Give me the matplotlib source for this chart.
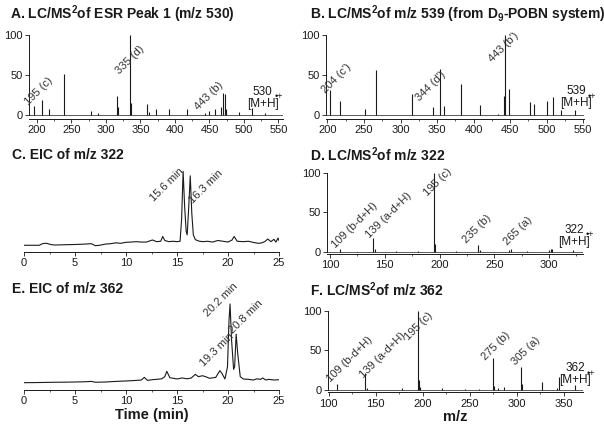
import matplotlib
matplotlib.use("Agg")
import matplotlib.pyplot as plt
from matplotlib.ticker import MultipleLocator

plt.rcParams['font.family'] = ['Liberation Sans', 'DejaVu Sans']
plt.rcParams['mathtext.fontset'] = 'custom'
plt.rcParams['mathtext.rm'] = 'Liberation Sans'
plt.rcParams['mathtext.bf'] = 'Liberation Sans:bold'

INK = '#1a1a1a'

# ---- panel A: MS2 of ESR peak 1 (m/z 530)
a_mz = [195, 208, 218, 239, 279, 289, 316, 318, 335, 336, 360, 362, 372, 391, 417,
        443, 450, 458, 467, 470, 472, 474, 493, 512, 530]
a_int = [11, 19, 8, 51, 5, 3, 24, 10, 100, 15, 14, 4, 7, 7, 7,
         3, 5, 7, 10, 28, 26, 8, 4, 9, 2]

# ---- panel B: MS2 of m/z 539 (D9-POBN)
b_mz = [204, 217, 251, 266, 316, 344, 354, 360, 383, 409, 433, 441, 443, 449,
        477, 483, 500, 508, 519, 539]
b_int = [31, 18, 7, 56, 26, 10, 58, 11, 39, 13, 1, 24, 100, 32,
         16, 14, 17, 22, 6, 6]

# ---- panel C: EIC of m/z 322
c_t = [0, 0.8, 1.5, 1.8, 2.2, 2.6, 3.0, 3.5, 4.0, 4.5, 5.0, 5.5, 6.0, 6.6, 7.0, 7.4,
       8.0, 8.5, 9.0, 9.5, 10.0, 10.5, 11.0, 11.5, 12.0, 12.6, 13.0, 13.4, 13.6, 13.8,
       14.2, 14.6, 15.0, 15.3, 15.45, 15.6, 15.75, 15.9, 16.0, 16.15, 16.3, 16.45, 16.6,
       16.8, 17.2, 17.6, 18.0, 18.5, 19.0, 19.5, 20.0, 20.4, 20.6, 20.9, 21.5, 22.0,
       22.5, 23.0, 23.3, 23.6, 23.9, 24.2, 24.5, 24.7, 24.9, 25.0]
c_y = [8, 8, 8, 10, 10.5, 9, 8.3, 8.5, 8.7, 8.8, 9, 9.2, 9.5, 10, 7.5, 8,
       9.5, 10, 11, 10.5, 11.7, 12, 12.5, 12, 12, 14.6, 12.5, 13, 19, 14,
       12.5, 13, 12.5, 13, 40, 100, 56, 25, 21, 56, 94.5, 48, 21,
       15, 13, 12.5, 13, 12, 14, 13, 12, 14.6, 19, 13, 12.5, 13,
       11.5, 10.4, 11, 12.5, 15.8, 12.5, 15.4, 12, 17, 14]

# ---- panel D: MS2 of m/z 322
d_mz = [109, 139, 141, 160, 180, 195, 196, 215, 235, 237, 263, 265, 280, 300, 302, 303, 322]
d_int = [4, 17, 3, 1, 1, 100, 10, 1, 9, 2, 2, 4, 1, 2.5, 3, 3, 1.5]

# ---- panel E: EIC of m/z 362
e_t = [0, 1, 2, 3, 4, 5, 6, 6.6, 7.0, 8.0, 9.0, 10.0, 10.8, 11.5, 11.8, 12.1, 12.6, 13.0,
       13.5, 13.8, 14.0, 14.3, 14.7, 15.0, 15.5, 16.0, 16.4, 16.8, 17.1, 17.5, 17.8,
       18.2, 18.8, 19.2, 19.4, 19.7, 19.95, 20.1, 20.2, 20.35, 20.55, 20.65, 20.8,
       20.95, 21.2, 21.5, 22.0, 22.5, 22.8, 23.2, 23.4, 23.7, 24.0, 24.5, 25.0]
e_y = [8.5, 8.6, 8.8, 9, 9.1, 9.3, 9.6, 10, 9, 9.3, 10, 10.5, 11, 11.6, 14.7, 11.2, 12, 12.4,
       13, 15.5, 21.7, 14.3, 13.5, 12.8, 14, 13, 14, 18.2, 15.5, 16.6, 15.5,
       13.6, 14.7, 22.5, 19.4, 12.8, 27, 81, 100, 58, 24, 27, 65,
       42.6, 15.5, 12.8, 12.4, 11.6, 13, 12.4, 14, 11.6, 12.4, 11.6, 12]

# ---- panel F: MS2 of m/z 362
f_mz = [109, 139, 141, 178, 195, 196, 197, 220, 245, 260, 275, 276, 280, 287,
        305, 306, 327, 343, 345, 362]
f_int = [8, 21, 3, 2, 100, 13, 4, 2, 1.5, 1.5, 40, 5, 2, 4,
         29, 8, 10, 3, 16, 6]

W, H = 604, 425
fig = plt.figure(figsize=(W / 100, H / 100), dpi=100)


def px_axes(l, t, r, b):
    return fig.add_axes([l / W, 1 - b / H, (r - l) / W, (b - t) / H])


def style(ax, major, minor, left=True):
    ax.spines['top'].set_visible(False)
    ax.spines['right'].set_visible(False)
    ax.xaxis.set_major_locator(MultipleLocator(major))
    ax.xaxis.set_minor_locator(MultipleLocator(minor))
    ax.tick_params(axis='both', which='major', labelsize=8, length=3, width=0.6,
                   colors=INK, pad=1.5)
    ax.tick_params(axis='x', which='minor', length=1.5, width=0.5, colors=INK)
    for s in ax.spines.values():
        s.set_linewidth(0.7)
        s.set_color(INK)
    if left:
        ax.spines['left'].set_bounds(0, 100)
        ax.set_yticks([0, 50, 100])
    else:
        ax.spines['left'].set_visible(False)
        ax.set_yticks([])


def spectrum(ax, mz, inten, xlim):
    ax.vlines(mz, 0, inten, color=INK, lw=0.8)
    ax.axhline(0, color=INK, lw=0.5)
    ax.set_xlim(*xlim)
    ax.set_ylim(-5 if xlim[1] > 400 else -3, 102)


def tag(ax, x, y, s):
    ax.text(x, y, s, rotation=45, rotation_mode='anchor', ha='left', va='bottom',
            fontsize=8, color='#333333')


def parent(ax, x, y, mz):
    ax.text(x, y + 15, str(mz), ha='center', va='center', fontsize=8.5, color=INK)
    t = ax.text(x, y, '[M+H]', ha='center', va='center', fontsize=8.5, color=INK)
    ax.annotate('•+', xy=(1, 0.7), xycoords=t, xytext=(-3, 0), textcoords='offset points',
                ha='left', va='bottom', fontsize=6.5, color=INK)


# A
ax = px_axes(28.7, 33.4, 282.6, 119)
spectrum(ax, a_mz, a_int, (188, 556))
style(ax, 50, 25)
tag(ax, 190, 10, '195 (c)')
tag(ax, 322, 49, '335 (d)')
tag(ax, 436, 4, '443 (b)')
parent(ax, 527, 14, 530)

# B
ax = px_axes(326, 33.4, 584, 119)
spectrum(ax, b_mz, b_int, (198, 551))
style(ax, 50, 25)
tag(ax, 199, 25, "204 (c')")
tag(ax, 328, 14.6, "344 (d')")
tag(ax, 428, 64, "443 (b')")
parent(ax, 540, 15, 539)

# C
ax = px_axes(24, 169.8, 279, 251.7)
ax.plot(c_t, c_y, color=INK, lw=0.8)
ax.set_xlim(0, 25)
ax.set_ylim(0, 102)
style(ax, 5, 2.5, left=False)
tag(ax, 12.9, 60, '15.6 min')
tag(ax, 16.7, 58, '16.3 min')

# D
ax = px_axes(326.7, 171.7, 583, 254)
spectrum(ax, d_mz, d_int, (97, 331))
style(ax, 50, 25)
tag(ax, 106, 2, '109 (b-d+H)')
tag(ax, 137.5, 15, '139 (a-d+H)')
tag(ax, 190, 68, '195 (c)')
tag(ax, 226, 8.5, '235 (b)')
tag(ax, 263, 6.5, '265 (a)')
parent(ax, 323, 12.8, 322)

# E
ax = px_axes(24, 302.3, 279, 390)
ax.plot(e_t, e_y, color=INK, lw=0.8)
ax.set_xlim(0, 25)
ax.set_ylim(0, 102)
style(ax, 5, 2.5, left=False)
tag(ax, 18.2, 83, '20.2 min')
tag(ax, 20.6, 64, '20.8 min')
tag(ax, 17.8, 25, '19.3 min')
ax.set_xlabel('Time (min)', fontsize=10.5, fontweight='bold', color=INK, labelpad=1)

# F
ax = px_axes(327.8, 309.1, 583.4, 392.4)
spectrum(ax, f_mz, f_int, (99, 371))
style(ax, 50, 25)
tag(ax, 103, 7.6, '109 (b-d+H)')
tag(ax, 138.6, 12.6, '139 (a-d+H)')
tag(ax, 186.5, 61, '195 (c)')
tag(ax, 268.7, 35.7, '275 (b)')
tag(ax, 300, 28.6, '305 (a)')
parent(ax, 362, 12.6, 362)
ax.set_xlabel('m/z', fontsize=10.5, fontweight='bold', color=INK, labelpad=1)

# panel titles
titles = [
    (10, 14, r'A. LC/MS$^{\mathbf{2}}$of ESR Peak 1 (m/z 530)'),
    (310, 14, r'B. LC/MS$^{\mathbf{2}}$of m/z 539 (from D$_{\mathbf{9}}$-POBN system)'),
    (12, 155, 'C. EIC of m/z 322'),
    (310, 155, r'D. LC/MS$^{\mathbf{2}}$of m/z 322'),
    (12, 289, 'E. EIC of m/z 362'),
    (310, 290, r'F. LC/MS$^{\mathbf{2}}$of m/z 362'),
]
for x, y, s in titles:
    fig.text(x / W, 1 - y / H, s, fontsize=10, fontweight='bold', color=INK,
             ha='left', va='center')

fig.savefig('out.png', dpi=100)
